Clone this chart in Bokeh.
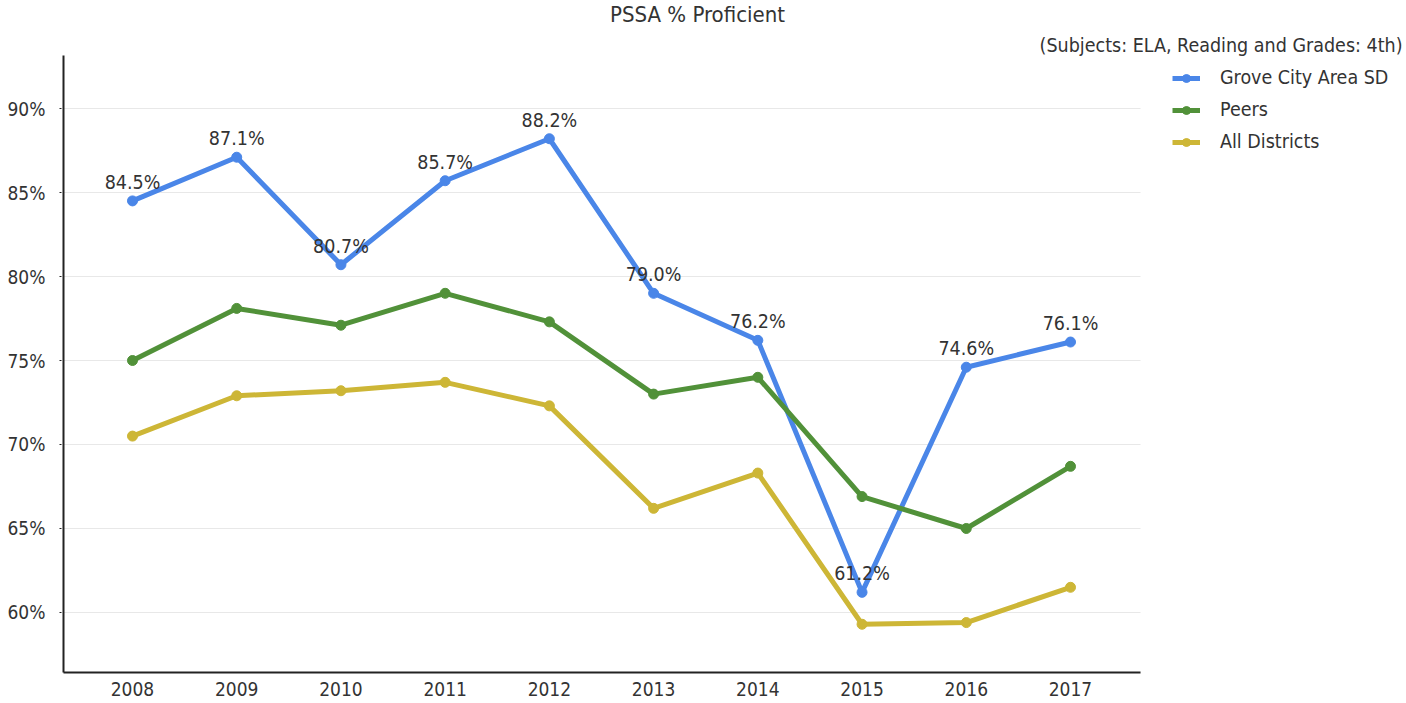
from bokeh.plotting import figure
from bokeh.models import (ColumnDataSource, FixedTicker, PrintfTickFormatter, Range1d,
                          Label, Legend, LegendItem, LabelSet)
from bokeh.embed import file_html
from bokeh.resources import INLINE
from bokeh.core.properties import value

years = [2008, 2009, 2010, 2011, 2012, 2013, 2014, 2015, 2016, 2017]
grove = [84.5, 87.1, 80.7, 85.7, 88.2, 79.0, 76.2, 61.2, 74.6, 76.1]
peers = [75.0, 78.1, 77.1, 79.0, 77.3, 73.0, 74.0, 66.9, 65.0, 68.7]
all_districts = [70.5, 72.9, 73.2, 73.7, 72.3, 66.2, 68.3, 59.3, 59.4, 61.5]
y_ticks = [60, 65, 70, 75, 80, 85, 90]

FONT = "DejaVu Sans Condensed"
TXT = "#333333"
AXC = "#222222"

# plotting-area extent (axis lines / gridlines), in data units
X0, X1 = 2007.338, 2017.672
Y0, Y1 = 56.429, 93.155

p = figure(width=1406, height=703, output_backend="svg", toolbar_location=None, title=None,
           x_range=Range1d(2007.3188, 2020.2239), y_range=Range1d(56.3095, 96.4286),
           min_border_left=61, min_border_right=0, min_border_top=0, min_border_bottom=29)
p.outline_line_color = None
p.background_fill_color = "white"

p.xaxis.ticker = FixedTicker(ticks=years)
p.yaxis.ticker = FixedTicker(ticks=y_ticks)
p.yaxis.formatter = PrintfTickFormatter(format="%d%%")
for ax in (p.xaxis, p.yaxis):
    ax.axis_line_color = None
    ax.major_label_text_font = FONT
    ax.major_label_text_font_size = "19px"
    ax.major_label_text_color = TXT
    ax.minor_tick_line_color = None
p.xaxis.major_tick_line_color = None
p.xaxis.major_label_standoff = 1
p.yaxis.major_tick_in = 0
p.yaxis.major_tick_out = 2
p.yaxis.major_tick_line_color = AXC
p.yaxis.major_tick_line_width = 1
p.yaxis.major_label_standoff = 14
p.xgrid.grid_line_color = None
p.ygrid.grid_line_color = None

# horizontal gridlines limited to the plotting area
p.segment(x0=[X0] * len(y_ticks), y0=y_ticks, x1=[X1] * len(y_ticks), y1=y_ticks,
          line_color="#e8e8e8", line_width=1)

src = ColumnDataSource(dict(x=years, g=grove, pe=peers, a=all_districts,
                            lab=["%.1f%%" % v for v in grove]))

series = [("Grove City Area SD", "g", "#4a86e8"),
          ("Peers", "pe", "#519139"),
          ("All Districts", "a", "#cdb636")]
items = []
for name, col, color in series:
    r1 = p.line("x", col, source=src, line_color=color, line_width=5)
    r2 = p.scatter("x", col, source=src, size=10, fill_color=color, line_color=color)
    items.append(LegendItem(label=name, renderers=[r1, r2]))

# axis lines
p.segment(x0=[X0, X0], y0=[Y0, Y0], x1=[X0, X1], y1=[Y1, Y0], line_color=AXC, line_width=2)

labels = LabelSet(x="x", y="g", text="lab", source=src, text_align="center",
                  text_baseline="bottom", y_offset=7, text_font=value(FONT),
                  text_font_size="19.5px", text_color=TXT)
p.add_layout(labels)

legend = Legend(items=items, location=(1111, 521), label_text_font=FONT,
                label_text_font_size="19.5px", label_text_color=TXT,
                glyph_width=28, glyph_height=20, label_height=20, spacing=9,
                label_standoff=20, padding=0, margin=0, border_line_color=None,
                background_fill_alpha=0)
p.add_layout(legend, "center")

title = Label(x=636, y=660, x_units="screen", y_units="screen", text="PSSA % Proficient",
              text_align="center", text_baseline="middle", text_font=FONT,
              text_font_size="22px", text_color=TXT)
sub = Label(x=1341, y=629, x_units="screen", y_units="screen",
            text="(Subjects: ELA, Reading and Grades: 4th)",
            text_align="right", text_baseline="middle", text_font=FONT,
            text_font_size="19.5px", text_color=TXT)
p.add_layout(title)
p.add_layout(sub)

open("out.html", "w").write(file_html(p, INLINE))
